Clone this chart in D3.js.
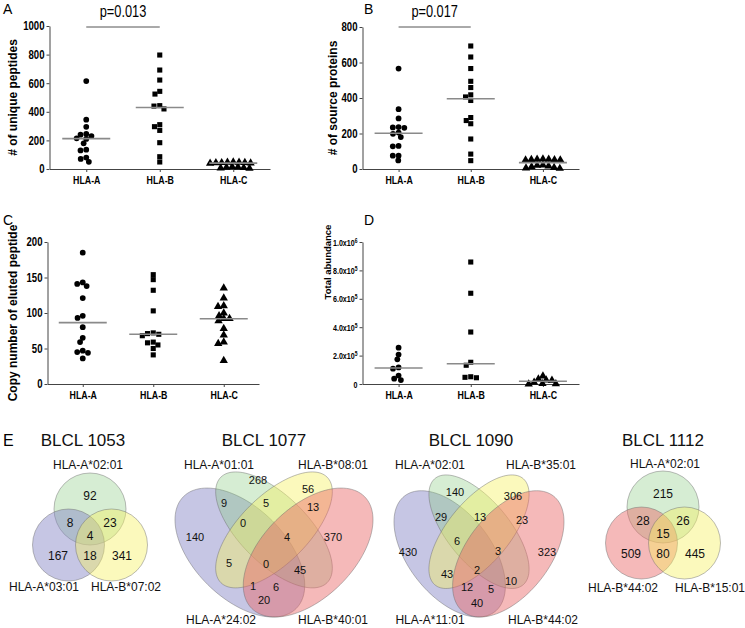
<!DOCTYPE html>
<html>
<head>
<meta charset="utf-8">
<script src="https://cdn.jsdelivr.net/npm/d3@7"></script>
<style>
  body { margin: 0; background: #fff; }
  svg { display: block; font-family: "Liberation Sans", Arial, sans-serif; }
</style>
</head>
<body>
<svg id="fig" width="745" height="628"></svg>
<script>
// ---- data ----
const groups = ["HLA-A", "HLA-B", "HLA-C"];

// A: # of unique peptides
const uniquePeptides = [
  [615, 345, 295, 245, 240, 230, 215, 210, 180, 135, 130, 80, 70, 50],
  [797, 692, 622, 543, 524, 443, 440, 420, 310, 296, 270, 184, 86, 49],
  [48, 47, 46, 45, 44, 43, 42, 40, 15, 13, 11, 9, 7, 5]
];
// B: # of source proteins
const sourceProteins = [
  [566, 337, 285, 236, 234, 232, 205, 198, 180, 130, 128, 75, 75, 48],
  [693, 631, 566, 494, 459, 418, 406, 386, 290, 273, 255, 169, 84, 47],
  [56, 55, 54, 53, 52, 51, 50, 22, 20, 16, 12, 8, 5, 3]
];
// C: copy number of eluted peptide
const copyNumber = [
  [185, 143, 141, 138, 121, 96, 93, 80, 65, 59, 47, 45, 44, 36],
  [154, 147, 132, 103, 72, 71, 70, 68, 59, 58, 55, 50, 41],
  [135, 121, 110, 109, 100, 96, 92, 92, 89, 78, 69, 59, 57, 33]
];
// D: total abundance
const totalAbundance = [
  [256000, 207000, 174000, 117000, 108000, 59000, 37000, 28000],
  [859000, 639000, 366000, 153000, 132000, 51000, 47000, 44000],
  [56000, 35000, 28000, 26000, 12000, 2000, 1000, 0]
];

const ticksA = [0, 200, 400, 600, 800, 1000];
const ticksB = [0, 200, 400, 600, 800];
const ticksC = [0, 50, 100, 150, 200];
const ticksD = [0, 200000, 400000, 600000, 800000, 1000000];

// E: Venn counts
// 3-set order: top, bottom-left, bottom-right, top&BL, top&BR, BL&BR, all
const venn1053Sets = ["HLA-A*02:01", "HLA-A*03:01", "HLA-B*07:02"];
const venn1053Counts = [92, 167, 341, 8, 23, 18, 4];
const venn1112Sets = ["HLA-A*02:01", "HLA-B*44:02", "HLA-B*15:01"];
const venn1112Counts = [215, 509, 445, 28, 26, 80, 15];
// 4-set order (ellipses left to right P,G,Y,R):
// P, G, Y, R, PG, GY, YR, PGY, GYR, PY, PGYR, GR, PYR, PGR, PR
const venn1077Sets = ["HLA-A*24:02", "HLA-A*01:01", "HLA-B*08:01", "HLA-B*40:01"];
const venn1077Counts = [140, 268, 56, 370, 9, 5, 13, 0, 4, 5, 0, 45, 1, 6, 20];
const venn1090Sets = ["HLA-A*11:01", "HLA-A*02:01", "HLA-B*35:01", "HLA-B*44:02"];
const venn1090Counts = [430, 140, 306, 323, 29, 13, 23, 6, 3, 43, 2, 10, 12, 5, 40];

// ---- drawing ----
const svg = d3.select("#fig");
const SQ = 0.8; // the panels are horizontally squeezed in the original

function squeeze(sel, k) {
  sel.each(function () {
    const t = d3.select(this);
    const x = +t.attr("x") || 0;
    t.attr("x", x / k).attr("transform", `scale(${k},1)`);
  });
}

// beeswarm with an elliptical footprint, so close values interleave in rows
function swarm(values, y, dX, dY) {
  const order = d3.range(values.length).sort((a, b) => d3.descending(values[a], values[b]));
  const placed = [];
  const xs = new Array(values.length);
  const hit = (p, c, yi) => ((p.x - c) / dX) ** 2 + ((p.y - yi) / dY) ** 2 < 0.999;
  for (const i of order) {
    const yi = y(values[i]);
    const near = placed.filter((p) => Math.abs(p.y - yi) < dY);
    const cands = [0];
    near.forEach((p) => {
      const dx = dX * Math.sqrt(1 - ((p.y - yi) / dY) ** 2);
      cands.push(p.x + dx, p.x - dx);
    });
    cands.sort((a, b) => Math.abs(a) - Math.abs(b) || a - b);
    const x = cands.find((c) => near.every((p) => !hit(p, c, yi)));
    placed.push({ x, y: yi });
    xs[i] = x;
  }
  return xs;
}

const shapes = [d3.symbolCircle, d3.symbolSquare, d3.symbolTriangle];
const shapeSize = [26, 26, 30];

function sciLabel(sel) {
  // "2.0x10^5" style tick labels
  sel.each(function (d) {
    const t = d3.select(this);
    if (d === 0) return;
    const e = Math.floor(Math.log10(d));
    const m = (d / 10 ** e).toFixed(1);
    t.text(null);
    t.append("tspan").text(`${m}x10`);
    t.append("tspan").attr("dy", "-0.45em").attr("font-size", "0.7em").text(e);
  });
}

function scatterPanel(p) {
  const x = d3.scalePoint().domain(groups).range([p.left, p.right]).padding(0.5);
  const y = d3.scaleLinear().domain([0, p.max]).range([p.bottom, p.top]);
  const g = svg.append("g");

  const yAxis = g.append("g")
    .attr("transform", `translate(${p.left},0)`)
    .call(d3.axisLeft(y).tickValues(p.ticks).tickSize(3).tickSizeOuter(0).tickPadding(2)
      .tickFormat(p.sci ? (d) => d : d3.format("d")));
  const xAxis = g.append("g")
    .attr("transform", `translate(0,${p.bottom})`)
    .call(d3.axisBottom(x).tickSize(3).tickSizeOuter(0).tickPadding(4));

  [yAxis, xAxis].forEach((a) => {
    a.select(".domain").attr("stroke", "#444").attr("stroke-width", 1);
    a.selectAll(".tick line").attr("stroke", "#444");
    a.selectAll("text").attr("fill", "#000").attr("font-weight", "bold")
      .attr("font-family", "Liberation Sans, Arial, sans-serif");
  });
  yAxis.selectAll("text").attr("font-size", p.sci ? 9.5 : 12);
  if (p.sci) yAxis.selectAll(".tick text").call(sciLabel);
  xAxis.selectAll("text").attr("font-size", 11);
  squeeze(yAxis.selectAll(".tick text"), p.sci ? 0.75 : SQ);
  squeeze(xAxis.selectAll(".tick text"), SQ);

  // points
  p.data.forEach((vals, gi) => {
    const offs = swarm(vals, y, 5.8, 4.8);
    g.append("g").selectAll("path")
      .data(vals)
      .join("path")
      .attr("d", d3.symbol(shapes[gi], shapeSize[gi]))
      .attr("transform", (d, i) => `translate(${x(groups[gi]) + offs[i]},${y(d)})`)
      .attr("fill", "#000");

    const med = d3.median(vals);
    g.append("line")
      .attr("x1", x(groups[gi]) - 24)
      .attr("x2", x(groups[gi]) + 24)
      .attr("y1", y(med))
      .attr("y2", y(med))
      .attr("stroke", "#8a8a8a")
      .attr("stroke-width", 1.6);
  });

  // y label
  g.append("text")
    .attr("transform", `translate(${p.ylabelX},${p.ylabelY}) rotate(-90)`)
    .attr("dy", "0.35em")
    .attr("text-anchor", "middle")
    .attr("font-size", p.ylabelSize || 12)
    .attr("font-weight", "bold")
    .text(p.ylabel);

  // panel letter
  g.append("text")
    .attr("x", p.letterX).attr("y", p.letterY)
    .attr("font-size", 14)
    .text(p.letter);

  // significance bar
  if (p.pText) {
    g.append("line")
      .attr("x1", x(groups[0])).attr("x2", x(groups[1]))
      .attr("y1", p.pY).attr("y2", p.pY)
      .attr("stroke", "#555").attr("stroke-width", 1);
    g.append("text")
      .attr("transform", `translate(${(x(groups[0]) + x(groups[1])) / 2},${p.pY - 10}) scale(${SQ},1)`)
      .attr("text-anchor", "middle")
      .attr("font-size", 16)
      .text(p.pText);
  }
}

scatterPanel({
  data: uniquePeptides, ticks: ticksA, max: 1000,
  left: 49.5, right: 270, top: 26, bottom: 169,
  ylabel: "# of unique peptides", ylabelX: 13, ylabelY: 97.5,
  letter: "A", letterX: 3, letterY: 14, pText: "p=0.013", pY: 27
});
scatterPanel({
  data: sourceProteins, ticks: ticksB, max: 800,
  left: 362.5, right: 579, top: 27, bottom: 169,
  ylabel: "# of source proteins", ylabelX: 333, ylabelY: 98,
  letter: "B", letterX: 364, letterY: 14, pText: "p=0.017", pY: 27
});
scatterPanel({
  data: copyNumber, ticks: ticksC, max: 200,
  left: 47.5, right: 259, top: 242, bottom: 384,
  ylabel: "Copy number of eluted peptide", ylabelX: 13, ylabelY: 313,
  letter: "C", letterX: 3, letterY: 225
});
scatterPanel({
  data: totalAbundance, ticks: ticksD, max: 1000000, sci: true,
  left: 362.5, right: 579, top: 242, bottom: 384,
  ylabel: "Total abundance", ylabelX: 328, ylabelY: 262, ylabelSize: 9.5,
  letter: "D", letterX: 364, letterY: 225
});

// ---- Venn diagrams ----
const vennColors = {
  purple: ["#8080c4", 0.45],
  green: ["#84c878", 0.33],
  yellow: ["#f5f060", 0.42],
  red: ["#e86464", 0.45]
};
const vennStroke = "#6a6a6a";

svg.append("text").attr("x", 3).attr("y", 446).attr("font-size", 16).text("E");

function title(x, text) {
  svg.append("text").attr("x", x).attr("y", 446)
    .attr("text-anchor", "middle").attr("font-size", 17).attr("fill", "#111")
    .text(text);
}

const circle3 = [[0, -24], [-21.5, 12], [21.5, 12]];
const region3 = [[0, -37], [-32, 23], [32, 23], [-20, -10], [20, -10], [0, 23], [0, 3]];

function venn3(v) {
  title(v.titleX, v.title);
  const g = svg.append("g").attr("transform", `translate(${v.cx},${v.cy})`);
  g.selectAll("circle")
    .data(v.colors)
    .join("circle")
    .attr("cx", (d, i) => circle3[i][0])
    .attr("cy", (d, i) => circle3[i][1])
    .attr("r", 36)
    .attr("fill", (d) => vennColors[d][0])
    .attr("fill-opacity", (d) => vennColors[d][1])
    .attr("stroke", vennStroke)
    .attr("stroke-opacity", 0.45);
  g.selectAll("text.count")
    .data(v.counts)
    .join("text")
    .attr("class", "count")
    .attr("x", (d, i) => region3[i][0])
    .attr("y", (d, i) => region3[i][1])
    .attr("dy", "0.35em")
    .attr("text-anchor", "middle")
    .attr("font-size", 12)
    .attr("fill", "#111")
    .text((d) => d);
  g.selectAll("text.set")
    .data(v.sets)
    .join("text")
    .attr("class", "set")
    .attr("x", (d, i) => v.setPos[i][0])
    .attr("y", (d, i) => v.setPos[i][1])
    .attr("dy", "0.35em")
    .attr("text-anchor", "middle")
    .attr("font-size", 12)
    .attr("fill", "#111")
    .text((d) => d);
}

venn3({
  title: "BLCL 1053", titleX: 83, cx: 90, cy: 533,
  sets: venn1053Sets, counts: venn1053Counts,
  colors: ["green", "purple", "yellow"],
  setPos: [[-2, -68], [-46, 54], [36, 54]]
});
venn3({
  title: "BLCL 1112", titleX: 663, cx: 663, cy: 531,
  sets: venn1112Sets, counts: venn1112Counts,
  colors: ["green", "red", "yellow"],
  setPos: [[2, -67], [-40, 57], [47, 57]]
});

// four-ellipse layout in unit space (x, y-up, a, b, rotation deg)
const ellipse4 = [
  [0.35, 0.47, 0.35, 0.20, 135],
  [0.50, 0.57, 0.33, 0.15, 135],
  [0.50, 0.57, 0.33, 0.15, 45],
  [0.65, 0.47, 0.35, 0.20, 45]
];
const colors4 = ["purple", "green", "yellow", "red"];

function venn4(v) {
  title(v.titleX, v.title);
  const x = d3.scaleLinear().domain([0.065, 0.935]).range([v.x0, v.x1]);
  const y = d3.scaleLinear().domain([0.185, 0.826]).range([v.y1, v.y0]);
  const line = d3.line().x((d) => x(d[0])).y((d) => y(d[1])).curve(d3.curveLinearClosed);
  const g = svg.append("g");

  g.selectAll("path")
    .data(ellipse4)
    .join("path")
    .attr("d", ([cx, cy, a, b, rot]) => {
      const th = (rot * Math.PI) / 180;
      const pts = d3.range(0, 2 * Math.PI, Math.PI / 60).map((t) => [
        cx + a * Math.cos(t) * Math.cos(th) - b * Math.sin(t) * Math.sin(th),
        cy + a * Math.cos(t) * Math.sin(th) + b * Math.sin(t) * Math.cos(th)
      ]);
      return line(pts);
    })
    .attr("fill", (d, i) => vennColors[colors4[i]][0])
    .attr("fill-opacity", (d, i) => vennColors[colors4[i]][1])
    .attr("stroke", vennStroke)
    .attr("stroke-opacity", 0.45);

  g.selectAll("text.count")
    .data(v.counts)
    .join("text")
    .attr("class", "count")
    .attr("x", (d, i) => v.countPos[i][0])
    .attr("y", (d, i) => v.countPos[i][1])
    .attr("dy", "0.35em")
    .attr("text-anchor", "middle")
    .attr("font-size", 11)
    .attr("fill", "#111")
    .text((d) => d);

  g.selectAll("text.set")
    .data(v.sets)
    .join("text")
    .attr("class", "set")
    .attr("x", (d, i) => v.setPos[i][0])
    .attr("y", (d, i) => v.setPos[i][1])
    .attr("dy", "0.35em")
    .attr("text-anchor", "middle")
    .attr("font-size", 12)
    .attr("fill", "#111")
    .text((d) => d);
}

venn4({
  title: "BLCL 1077", titleX: 264,
  x0: 175, x1: 373, y0: 472, y1: 617,
  sets: venn1077Sets, counts: venn1077Counts,
  setPos: [[221, 620], [219, 465], [333, 465], [333, 620]],
  countPos: [[195, 537], [258, 480], [308, 489], [333, 537], [224, 503], [266, 503],
    [313, 507], [243, 523], [287, 537], [229, 563], [266, 564], [300, 570],
    [253, 586], [276, 587], [264, 600]]
});
venn4({
  title: "BLCL 1090", titleX: 471,
  x0: 394, x1: 564, y0: 475, y1: 617,
  sets: venn1090Sets, counts: venn1090Counts,
  setPos: [[430, 620], [430, 465], [541, 465], [543, 620]],
  countPos: [[408, 552], [455, 492], [513, 496], [547, 552], [441, 517], [480, 517],
    [522, 520], [457, 541], [498, 551], [447, 574], [477, 570], [511, 581],
    [467, 587], [491, 589], [477, 603]]
});
</script>
</body>
</html>
